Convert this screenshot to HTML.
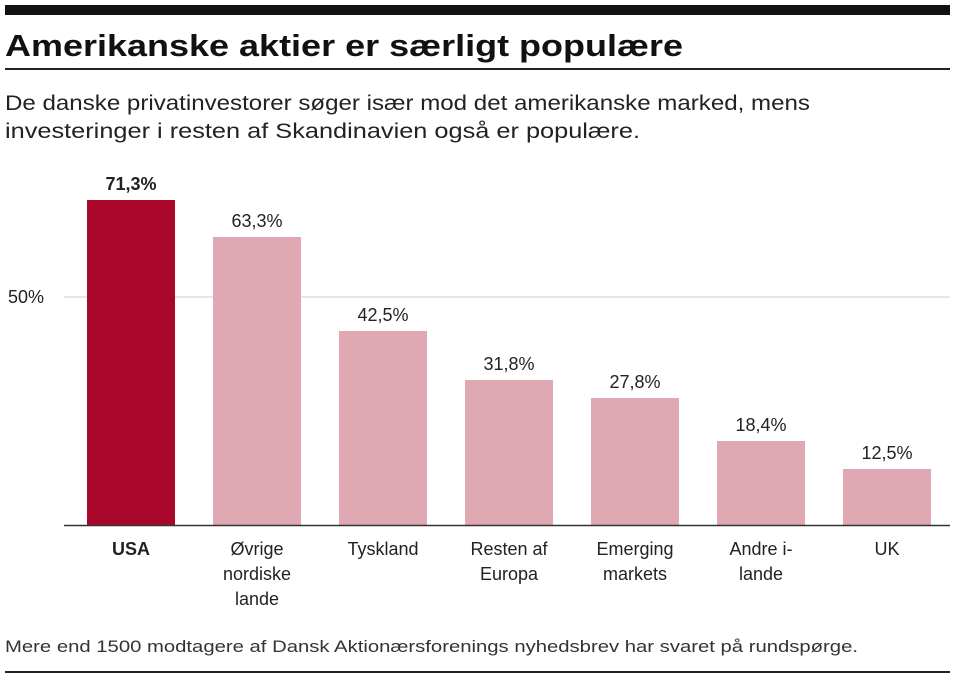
<!DOCTYPE html>
<html><head><meta charset="utf-8"><style>
html,body{margin:0;padding:0;background:#fff;}
svg{display:block;font-family:"Liberation Sans",sans-serif;}
</style></head><body>
<svg width="960" height="681" viewBox="0 0 960 681" xmlns="http://www.w3.org/2000/svg">
<rect x="5" y="5" width="945" height="10" fill="#111"/>
<text x="5" y="56" font-size="31" font-weight="bold" fill="#111" textLength="678" lengthAdjust="spacingAndGlyphs">Amerikanske aktier er særligt populære</text>
<rect x="5" y="68" width="945" height="2" fill="#222"/>
<text x="5" y="110" font-size="21" fill="#222" textLength="805" lengthAdjust="spacingAndGlyphs">De danske privatinvestorer søger især mod det amerikanske marked, mens</text>
<text x="5" y="138" font-size="21" fill="#222" textLength="635" lengthAdjust="spacingAndGlyphs">investeringer i resten af Skandinavien også er populære.</text>
<line x1="64" y1="297" x2="950" y2="297" stroke="#ccc" stroke-width="1"/>
<text x="8" y="303" font-size="18" fill="#222">50%</text>
<g font-size="18" fill="#222" text-anchor="middle">
<rect x="87" y="200" width="88" height="325" fill="#a8072a"/>
<text x="131" y="190" font-weight="bold">71,3%</text>
<rect x="213" y="237" width="88" height="288" fill="#e0a8b3"/>
<text x="257" y="227">63,3%</text>
<rect x="339" y="331" width="88" height="194" fill="#e0a8b3"/>
<text x="383" y="321">42,5%</text>
<rect x="465" y="380" width="88" height="145" fill="#e0a8b3"/>
<text x="509" y="370">31,8%</text>
<rect x="591" y="398" width="88" height="127" fill="#e0a8b3"/>
<text x="635" y="388">27,8%</text>
<rect x="717" y="441" width="88" height="84" fill="#e0a8b3"/>
<text x="761" y="431">18,4%</text>
<rect x="843" y="469" width="88" height="56" fill="#e0a8b3"/>
<text x="887" y="459">12,5%</text>
<line x1="64" y1="525.5" x2="950" y2="525.5" stroke="#333" stroke-width="1.5"/>
<text x="131" y="555" font-weight="bold">USA</text>
<text x="257" y="555">Øvrige</text><text x="257" y="580">nordiske</text><text x="257" y="605">lande</text>
<text x="383" y="555">Tyskland</text>
<text x="509" y="555">Resten af</text><text x="509" y="580">Europa</text>
<text x="635" y="555">Emerging</text><text x="635" y="580">markets</text>
<text x="761" y="555">Andre i-</text><text x="761" y="580">lande</text>
<text x="887" y="555">UK</text>
</g>
<text x="5" y="652" font-size="17" fill="#333" textLength="853" lengthAdjust="spacingAndGlyphs">Mere end 1500 modtagere af Dansk Aktionærsforenings nyhedsbrev har svaret på rundspørge.</text>
<rect x="5" y="671" width="945" height="2" fill="#222"/>
</svg>
</body></html>
